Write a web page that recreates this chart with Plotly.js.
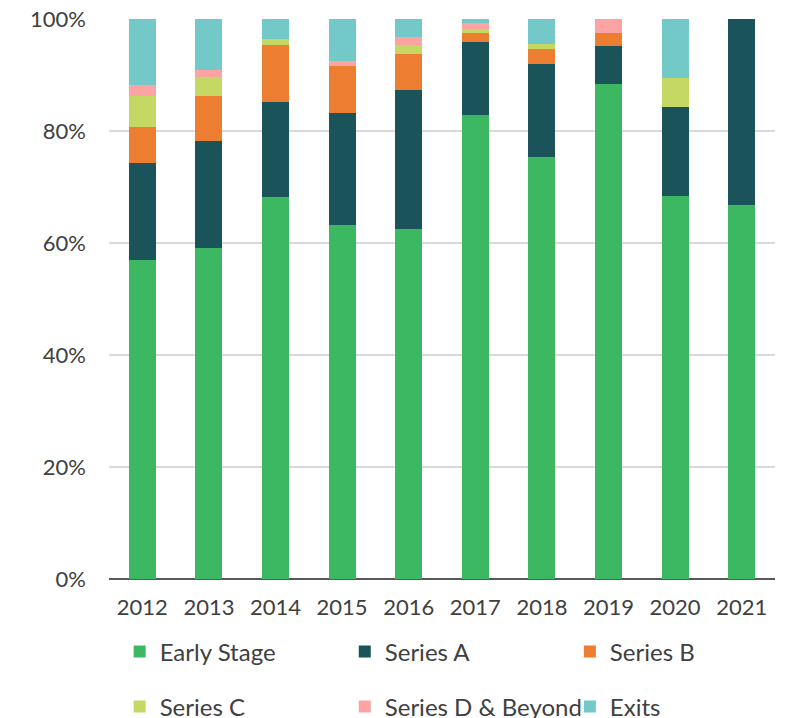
<!DOCTYPE html>
<html>
<head>
<meta charset="utf-8">
<script src="https://cdn.plot.ly/plotly-3.0.1.min.js"></script>
<style>html,body{margin:0;padding:0;background:#fff;}#chart{width:790px;height:718px;}</style>
</head>
<body>
<div id="chart"></div>
<script>
const years = ['2012','2013','2014','2015','2016','2017','2018','2019','2020','2021'];
const earlyStage = [57.0, 59.1, 68.2, 63.2, 62.5, 82.9, 75.4, 88.4, 68.4, 66.7];
const seriesA    = [17.3, 19.2, 17.0, 20.1, 24.9, 13.0, 16.6, 6.8, 15.8, 33.3];
const seriesB    = [6.5, 8.0, 10.2, 8.3, 6.3, 1.6, 2.6, 2.3, 0, 0];
const seriesC    = [5.5, 3.4, 1.1, 0, 1.6, 0.8, 1.0, 0, 5.3, 0];
const seriesD    = [1.9, 1.2, 0, 0.9, 1.5, 0.9, 0, 2.5, 0, 0];
const exits      = [11.8, 9.1, 3.5, 7.5, 3.2, 0.8, 4.4, 0, 10.5, 0];
const seriesNames = ['Early Stage','Series A','Series B','Series C','Series D & Beyond','Exits'];
const seriesValues = [earlyStage, seriesA, seriesB, seriesC, seriesD, exits];
const colors = ['#3CB863','#1B535B','#ED7D31','#C5D864','#FCA4A4','#72C9C7'];
const yTicks = [0,20,40,60,80,100];
const yTickText = ['0%','20%','40%','60%','80%','100%'];

const legendIds = ['legend','legend2','legend3','legend4','legend5','legend6'];
const traces = seriesNames.map((name, i) => ({
  type: 'bar',
  name: name,
  x: years,
  y: seriesValues[i],
  marker: {color: colors[i], line: {width: 0}},
  legend: legendIds[i],
  hoverinfo: 'skip'
}));

const font = {family: 'Lato, "Open Sans", sans-serif', size: 22, color: '#404040'};
const legendFont = {family: 'Lato, "Open Sans", sans-serif', size: 24, color: '#404040'};
const legendX = [0.016, 0.354, 0.692];
const legendY = [-0.1304, -0.2286];

const layout = {
  width: 790,
  height: 718,
  margin: {l: 109, r: 15, t: 19, b: 139, autoexpand: false},
  paper_bgcolor: '#fff',
  plot_bgcolor: '#fff',
  font: font,
  barmode: 'stack',
  bargap: 0.595,
  showlegend: true,
  xaxis: {
    type: 'category',
    tickfont: font,
    showgrid: false,
    showline: false,
    zeroline: false,
    ticks: '',
    ticklabelstandoff: 13
  },
  yaxis: {
    range: [0, 100],
    tickvals: yTicks,
    ticktext: yTickText,
    tickfont: font,
    showgrid: true,
    gridcolor: '#D9D9D9',
    gridwidth: 1.5,
    zeroline: true,
    zerolinecolor: '#595959',
    zerolinewidth: 2,
    ticks: '',
    ticklabelstandoff: 22,
    fixedrange: true
  }
};
legendIds.forEach((id, i) => {
  layout[id] = {
    orientation: 'h',
    xanchor: 'left',
    yanchor: 'middle',
    x: legendX[i % 3],
    y: legendY[Math.floor(i / 3)],
    font: legendFont,
    bgcolor: 'rgba(0,0,0,0)'
  };
});

Plotly.newPlot('chart', traces, layout, {displayModeBar: false, staticPlot: true});
</script>
</body>
</html>
